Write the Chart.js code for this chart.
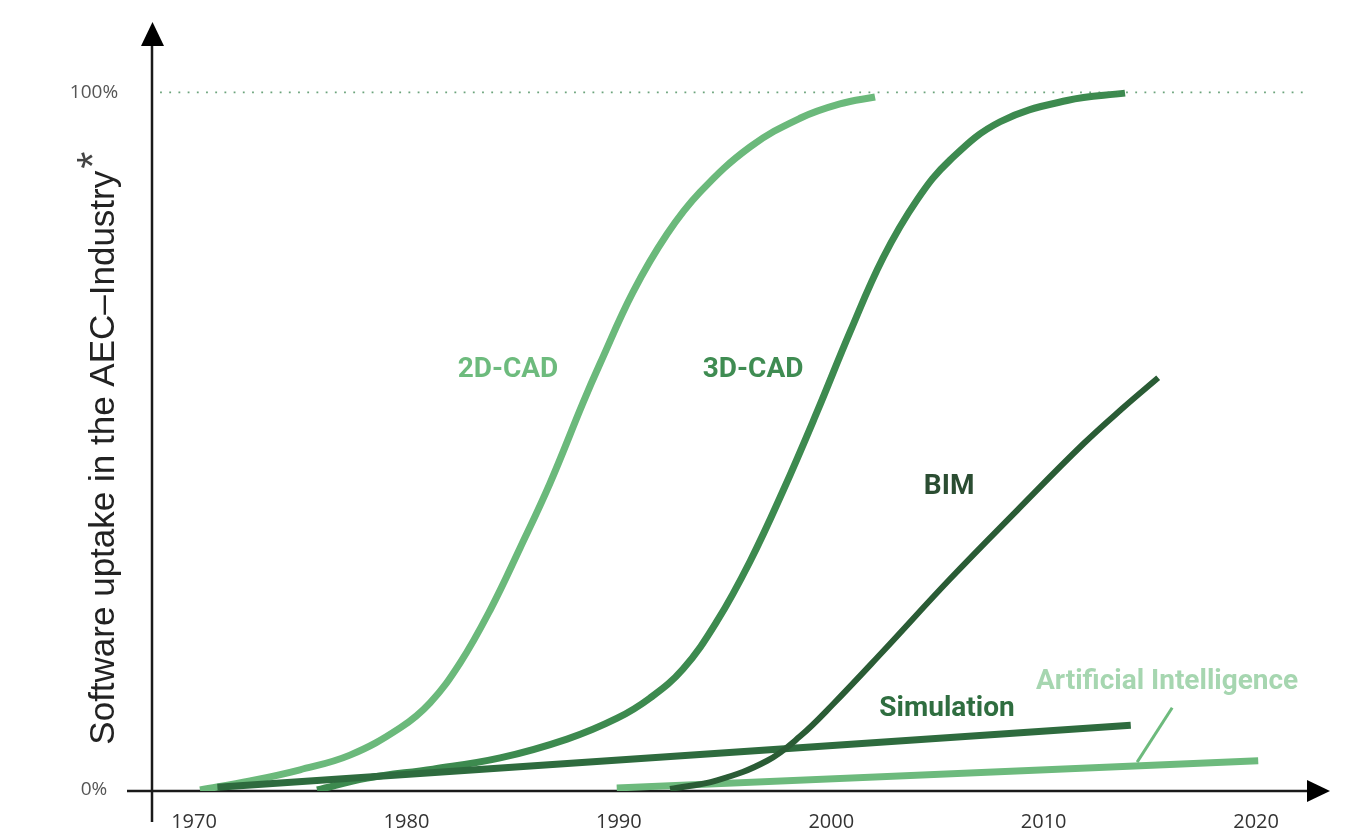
<!DOCTYPE html>
<html><head><meta charset="utf-8">
<script src="https://cdn.jsdelivr.net/npm/chart.js@4.4.0/dist/chart.umd.min.js"></script>
<style>html,body{margin:0;padding:0;background:#fff;}canvas{display:block;}</style>
</head><body>
<canvas id="c" width="1363" height="833"></canvas>
<script>
// ---- data (years, % uptake) ----
const xTickYears = [1970, 1980, 1990, 2000, 2010, 2020];
const yTickValues = [0, 100];
const yTickLabels = ['0%', '100%'];
const yTitle = 'Software uptake in the AEC\u2013Industry';

const cad2dYears  = [1970.28, 1972.64, 1974.99, 1977.34, 1979.70, 1981.11, 1982.52, 1983.94, 1985.35, 1986.76, 1988.31, 1989.11, 1990.67, 1992.27, 1993.82, 1996.18, 1998.53, 2000.41, 2002.06];
const cad2dValues = [0.0, 1.3, 2.9, 5.0, 8.9, 12.5, 18.2, 25.8, 34.7, 44.0, 55.5, 61.1, 71.4, 79.7, 85.7, 92.2, 96.3, 98.35, 99.35];

const cad3dYears  = [1975.79, 1978.15, 1981.25, 1984.41, 1987.56, 1989.92, 1991.47, 1993.02, 1994.62, 1996.18, 1997.73, 1999.33, 2000.89, 2002.44, 2004.04, 2005.59, 2007.95, 2011.10, 2013.83];
const cad3dValues = [0.0, 1.7, 3.0, 4.6, 7.3, 10.3, 13.2, 17.35, 24.2, 32.8, 42.9, 54.2, 65.7, 76.3, 84.6, 90.3, 95.8, 98.85, 99.9];

const bimYears  = [1992.41, 1994.62, 1996.98, 1998.53, 2000.08, 2002.44, 2005.59, 2008.75, 2011.86, 2013.74, 2015.39];
const bimValues = [0.15, 1.4, 4.2, 7.7, 12.3, 19.9, 30.25, 40.1, 49.6, 54.8, 59.1];

const simYears  = [1971.1, 2014.1];
const simValues = [0.4, 9.3];

const aiYears  = [1989.9, 2020.1];
const aiValues = [0.3, 4.2];

const aiPointerYears  = [2014.4, 2016.05];
const aiPointerValues = [4.0, 11.8];

const fullLineYears  = [1968.4, 2022.3];
const fullLineValues = [100, 100];

const seriesLabels = ['2D-CAD', '3D-CAD', 'BIM', 'Simulation', 'Artificial Intelligence'];
const labelYears   = [1984.78, 1996.32, 2005.55, 2005.45, 2015.81];
const labelValues  = [60.2, 60.2, 43.4, 11.6, 15.5];
const titleStartValue = 6.5;

// ---- styles ----
const C2D = '#6bb97b', C3D = '#3d8a4f', CBIM = '#2a5c35', CSIM = '#2e6b3e', CAI = '#6dba7d';
const labelColors = ['#6dbb7d', '#3f8c52', '#2b4d32', '#2f6e40', '#a6d6b0'];

const pts = (xs, ys) => xs.map((x, i) => ({x, y: ys[i]}));

const axesPlugin = {
  id: 'axesArrows',
  beforeDatasetsDraw(chart) {
    const ctx = chart.ctx, xs = chart.scales.x, ys = chart.scales.y;
    const x0 = xs.getPixelForValue(xs.min), y0 = ys.getPixelForValue(ys.min);
    const xEnd = xs.getPixelForValue(xs.max), yEnd = ys.getPixelForValue(ys.max);
    ctx.save();
    ctx.strokeStyle = '#1a1a1a'; ctx.fillStyle = '#000'; ctx.lineWidth = 2.5;
    ctx.beginPath();
    ctx.moveTo(x0 - 25, y0); ctx.lineTo(xEnd - 20, y0);
    ctx.moveTo(x0, y0 + 31); ctx.lineTo(x0, yEnd + 20);
    ctx.stroke();
    ctx.beginPath();
    ctx.moveTo(xEnd, y0); ctx.lineTo(xEnd - 23, y0 - 11); ctx.lineTo(xEnd - 23, y0 + 11); ctx.closePath();
    ctx.fill();
    ctx.beginPath();
    ctx.moveTo(x0 + 0.5, yEnd); ctx.lineTo(x0 - 11, yEnd + 24); ctx.lineTo(x0 + 12, yEnd + 24); ctx.closePath();
    ctx.fill();
    // y tick labels
    ctx.font = '19px "Open Sans"'; ctx.fillStyle = '#555'; ctx.textAlign = 'center'; ctx.textBaseline = 'middle';
    yTickValues.forEach((v, i) => ctx.fillText(yTickLabels[i], 94, ys.getPixelForValue(v)));
    // y title
    ctx.translate(114, ys.getPixelForValue(titleStartValue));
    ctx.rotate(-Math.PI / 2);
    ctx.font = '35px "Liberation Sans"'; ctx.fillStyle = '#222'; ctx.textAlign = 'left'; ctx.textBaseline = 'alphabetic';
    ctx.fillText(yTitle, 0, 0);
    const w = ctx.measureText(yTitle).width;
    ctx.font = '44px "Liberation Sans"'; ctx.fillStyle = '#444';
    ctx.fillText('*', w + 2, -6);
    ctx.restore();
  },
  afterDatasetsDraw(chart) {
    const ctx = chart.ctx, xs = chart.scales.x, ys = chart.scales.y;
    ctx.save();
    ctx.font = 'bold 28px Roboto'; ctx.textAlign = 'center'; ctx.textBaseline = 'middle';
    seriesLabels.forEach((t, i) => {
      ctx.fillStyle = labelColors[i];
      ctx.fillText(t, xs.getPixelForValue(labelYears[i]), ys.getPixelForValue(labelValues[i]));
    });
    ctx.restore();
  }
};

new Chart(document.getElementById('c'), {
  type: 'line',
  data: {
    datasets: [
      {data: pts(fullLineYears, fullLineValues), borderColor: 'rgba(70,140,90,0.8)', borderWidth: 1.8, borderDash: [1.8, 7.4], tension: 0},
      {data: pts(bimYears, bimValues), borderColor: CBIM, borderWidth: 6, tension: 0.4},
      {data: pts(simYears, simValues), borderColor: CSIM, borderWidth: 7, tension: 0},
      {data: pts(cad3dYears, cad3dValues), borderColor: C3D, borderWidth: 7, tension: 0.4},
      {data: pts(cad2dYears, cad2dValues), borderColor: C2D, borderWidth: 7, tension: 0.4},
      {data: pts(aiYears, aiValues), borderColor: CAI, borderWidth: 7, tension: 0},
      {data: pts(aiPointerYears, aiPointerValues), borderColor: CAI, borderWidth: 3, tension: 0}
    ]
  },
  options: {
    responsive: false, devicePixelRatio: 1, animation: false,
    layout: {padding: {left: 152, right: 33, top: 22, bottom: 1}},
    elements: {point: {radius: 0, hoverRadius: 0}, line: {fill: false, borderCapStyle: 'butt'}},
    plugins: {legend: {display: false}, tooltip: {enabled: false}},
    scales: {
      x: {
        type: 'linear', min: 1968.02, max: 2023.48,
        grid: {display: false, drawTicks: false}, border: {display: false},
        afterBuildTicks: (s) => { s.ticks = xTickYears.map(v => ({value: v})); },
        afterFit: (s) => { s.height = 41; },
        ticks: {padding: 19, color: '#333', font: {family: '"Open Sans"', size: 20}, callback: (v) => String(v), maxRotation: 0, autoSkip: false}
      },
      y: {
        type: 'linear', min: -0.14, max: 110.1, display: false
      }
    }
  },
  plugins: [axesPlugin]
});
</script>
</body></html>
